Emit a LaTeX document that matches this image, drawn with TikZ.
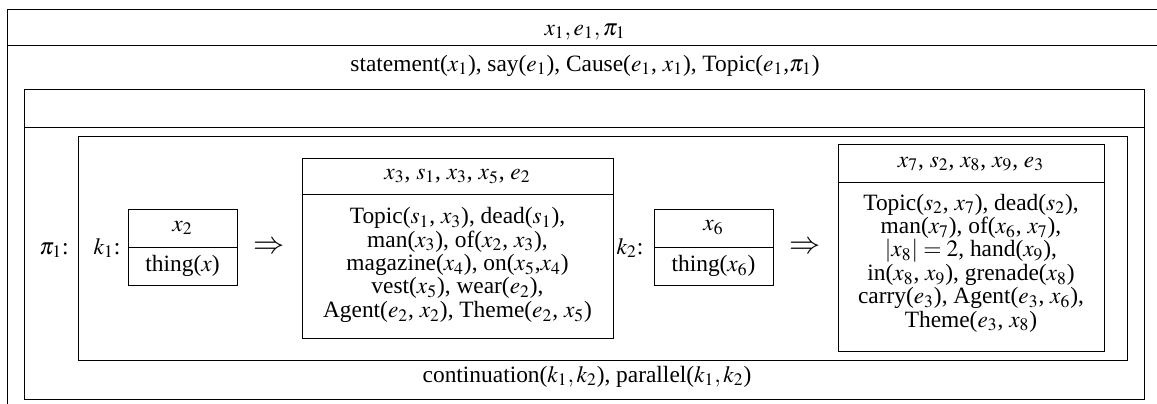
\documentclass[tikz,border=0pt]{standalone}
\usepackage{mathptmx}
\usepackage[no-math]{fontspec}
\setmainfont{Liberation Serif}
\usepackage{tikz}

\tikzset{
  lbl/.style={anchor=base},
  cond/.style={align=center, inner sep=0pt},
  imp/.style={anchor=base, font=\fontsize{16}{16}\selectfont}
}

\begin{document}
\begin{tikzpicture}[x=0.513pt,y=-0.513pt,font=\fontsize{12}{12}\selectfont]
%		\draw [help lines] (0,0) grid (1157,403);
		\useasboundingbox (0,0) rectangle (1157,403);
		\clip (0,0) rectangle (1157,403);
		%Outer DRS
		\draw (7,9) rectangle (1175,420);
		\draw (7,45) -- (1175,45);
		\node (univ) [lbl] at (585,35) {$x_1, e_1, \pi_1$};
		\node (conds) [lbl] at (585,71) {statement($x_1$), say($e_1$), Cause($e_1$, $x_1$), Topic($e_1$,$\pi_1$)};
		%Pi1
		\draw (24,89) rectangle (1144,399);
		\draw (24,127) -- (1144,127);
		\node (pilab) [lbl] at (54,254) {$\pi_1$:};
		\draw (78,136) rectangle (1127,360);
		\node (rel) [lbl] at (587,382) {continuation($k_1,k_2$), parallel($k_1,k_2$)};
		%K1
		\node (klab1) [lbl] at (107,254) {$k_1$:};
		\draw (128,209) rectangle (237,285);
		\draw (128,247) -- (237,247);
		\node (kuniv1) at (182.5,228) {$x_2$};
		\node (kcond1) at (182.5,266) {thing($x$)};
		\node (imp1) [imp] at (269.5,253) {$\Rightarrow$};
		%Conseguente1
		\draw (302,158) rectangle (613,338);
		\draw (302,194) -- (613,194);
		\node (cuniv1) at (457.5,176) {$x_3$, $s_1$, $x_3$, $x_5$, $e_2$};
		\node (ccond1) [cond] at (457.5,265) {Topic($s_1$, $x_3$), dead($s_1$),\\
			man($x_3$), of($x_2$, $x_3$),\\
			magazine($x_4$), on($x_5$,$x_4$)\\
			vest($x_5$), wear($e_2$),\\
			Agent($e_2$, $x_2$), Theme($e_2$, $x_5$)};
		%K2
		\node (klab2) [lbl] at (630,254) {$k_2$:};
		\draw (654,209) rectangle (773,285);
		\draw (654,247) -- (773,247);
		\node (kuniv2) at (713.5,228) {$x_6$};
		\node (kcond2) at (713.5,266) {thing($x_6$)};
		\node (imp2) [imp] at (805.5,253) {$\Rightarrow$};
		%Conseguente2
		\draw (838,144) rectangle (1104,351);
		\draw (838,182) -- (1104,182);
		\node (cuniv2) at (971,164) {$x_7$, $s_2$, $x_8$, $x_9$, $e_3$};
		\node (ccond2) [cond] at (971,263) {Topic($s_2$, $x_7$), dead($s_2$),\\
			man($x_7$), of($x_6$, $x_7$),\\
			$|x_8|=2$, hand($x_9$),\\
			in($x_8$, $x_9$), grenade($x_8$)\\
			carry($e_3$), Agent($e_3$, $x_6$),\\
			Theme($e_3$, $x_8$)};
\end{tikzpicture}
\end{document}
